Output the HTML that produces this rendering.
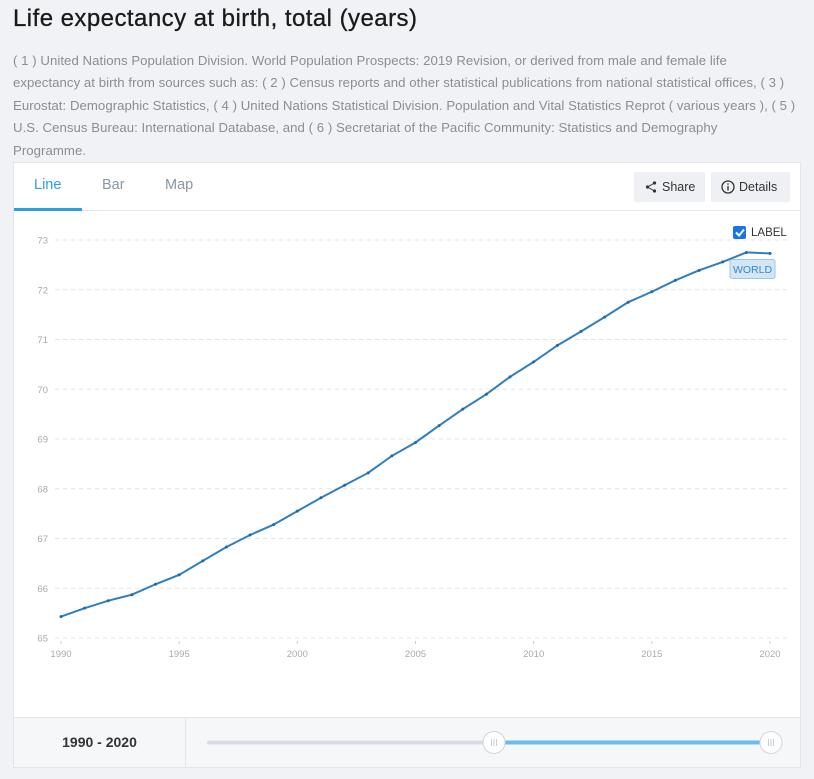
<!DOCTYPE html>
<html><head><meta charset="utf-8">
<style>
*{box-sizing:border-box;margin:0;padding:0}
body{width:814px;height:779px;background:#f1f2f6;font-family:"Liberation Sans",sans-serif;position:relative;overflow:hidden}
h1{position:absolute;left:13px;top:5px;font-size:24px;font-weight:normal;color:#1a1a1a;letter-spacing:0.45px;white-space:nowrap;-webkit-text-stroke:0.3px #1a1a1a}
.desc{position:absolute;left:13px;top:50px;width:800px;font-size:13.2px;line-height:22.4px;color:#8a8d91;white-space:nowrap;letter-spacing:0.05px}
.card{position:absolute;left:13px;top:162px;width:788px;height:606px;background:#fff;border:1px solid #e3e5e9}
.tabs{position:absolute;left:0;top:0;width:786px;height:48px;border-bottom:1px solid #e3e5e9}
.tab{position:absolute;top:14px;font-size:14.5px;color:#8a96a3}
.btn{position:absolute;top:9px;height:30px;background:#eef0f3;border-radius:2px;font-size:12.5px;color:#333;line-height:30px;padding-left:28px}
.foot{position:absolute;left:0;top:554px;width:786px;height:50px;background:#f6f7f9;border-top:1px solid #e3e5e9}
</style></head><body>
<h1>Life expectancy at birth, total (years)</h1>
<div class="desc">( 1 ) United Nations Population Division. World Population Prospects: 2019 Revision, or derived from male and female life<br>expectancy at birth from sources such as: ( 2 ) Census reports and other statistical publications from national statistical offices, ( 3 )<br>Eurostat: Demographic Statistics, ( 4 ) United Nations Statistical Division. Population and Vital Statistics Reprot ( various years ), ( 5 )<br>U.S. Census Bureau: International Database, and ( 6 ) Secretariat of the Pacific Community: Statistics and Demography<br>Programme.</div>
<div class="card">
 <div class="tabs">
  <div class="tab" style="left:20px;color:#2a9fe8">Line</div>
  <div style="position:absolute;left:0;top:45px;width:68px;height:3px;background:#2a9fe8"></div>
  <div class="tab" style="left:88px">Bar</div>
  <div class="tab" style="left:151px">Map</div>
  <div class="btn" style="left:620px;width:71px"><svg style="position:absolute;left:11px;top:9px" width="12" height="12" viewBox="0 0 12 12"><circle cx="9.5" cy="2" r="1.6" fill="#333"/><circle cx="2.5" cy="6" r="1.6" fill="#333"/><circle cx="9.5" cy="10" r="1.6" fill="#333"/><path d="M9.5 2L2.5 6L9.5 10" stroke="#333" fill="none"/></svg>Share</div>
  <div class="btn" style="left:697px;width:79px"><svg style="position:absolute;left:10px;top:8px" width="14" height="14" viewBox="0 0 14 14"><circle cx="7" cy="7" r="6" stroke="#333" stroke-width="1.3" fill="none"/><rect x="6.3" y="6" width="1.4" height="4.5" fill="#333"/><rect x="6.3" y="3.3" width="1.4" height="1.4" fill="#333"/></svg>Details</div>
 </div>
 <div class="foot">
  <div style="position:absolute;left:0;top:0;width:172px;height:49px;border-right:1px solid #e3e5e9;text-align:center;line-height:49px;font-weight:bold;font-size:14px;color:#333">1990 - 2020</div>
 </div>
</div>
<svg id="chart" width="814" height="779" style="position:absolute;left:0;top:0"></svg>
<script>
const years=[1990,1991,1992,1993,1994,1995,1996,1997,1998,1999,2000,2001,2002,2003,2004,2005,2006,2007,2008,2009,2010,2011,2012,2013,2014,2015,2016,2017,2018,2019,2020];
const values=[65.43,65.6,65.75,65.87,66.08,66.27,66.55,66.83,67.07,67.28,67.55,67.82,68.07,68.32,68.66,68.93,69.27,69.6,69.9,70.25,70.55,70.88,71.16,71.45,71.75,71.96,72.19,72.39,72.56,72.75,72.73];
const yTicks=[65,66,67,68,69,70,71,72,73];
const xTicks=[1990,1995,2000,2005,2010,2015,2020];
const NS="http://www.w3.org/2000/svg";
const svg=document.getElementById('chart');
const X=v=>61+(v-1990)*(709/30);
const Y=v=>638-(v-65)*49.75;
function mk(t,a){const e=document.createElementNS(NS,t);for(const k in a)e.setAttribute(k,a[k]);svg.appendChild(e);return e;}
yTicks.forEach(t=>{
 const l=mk('line',{x1:55,x2:790,y1:Y(t),y2:Y(t),stroke:'#e4e4e4','stroke-dasharray':'4,4'});
 
 
 const tx=mk('text',{x:48,y:Y(t)+3.5,'text-anchor':'end','font-size':'9.5','fill':'#aaa','font-family':'Liberation Sans, sans-serif'});tx.textContent=t;
 
 
});
xTicks.forEach(t=>{
 const l=mk('line',{x1:X(t),x2:X(t),y1:641,y2:644,stroke:'#ccc'});
 
 
 const tx=mk('text',{x:X(t),y:657,'text-anchor':'middle','font-size':'9.5','fill':'#aaa','font-family':'Liberation Sans, sans-serif'});tx.textContent=t;
 
 
});
const p=mk('polyline',{points:years.map((y,i)=>X(y)+','+Y(values[i])).join(' '),fill:'none',stroke:'#2e7fbf','stroke-width':'2'});


years.forEach((y,i)=>{const c=mk('circle',{cx:X(y),cy:Y(values[i]),r:1.5,fill:'#1f6aa8'});
 
 });
const cb=mk('rect',{x:733,y:226,width:13,height:13,rx:2,fill:'#1a73e8'});


mk('path',{d:'M736 232.5l3 3l5-6',stroke:'#fff','stroke-width':'2',fill:'none'});
const lt=mk('text',{x:751,y:236,'font-size':'11.5','fill':'#333','font-family':'Liberation Sans, sans-serif'});lt.textContent='LABEL';


const lb=mk('rect',{x:730,y:259.5,width:45,height:19,rx:2,fill:'#d3e6f5',stroke:'#9cc6e6'});


const lw=mk('text',{x:752.5,y:273,'text-anchor':'middle','font-size':'10.5','fill':'#3a85c4','font-family':'Liberation Sans, sans-serif'});lw.textContent='WORLD';


const tr=mk('rect',{x:207,y:740.5,width:563,height:4,rx:2,fill:'#d8dde3'});


const h1x=494, h2x=771;
const fr=mk('rect',{x:h1x,y:740.5,width:h2x-h1x,height:4,fill:'#6bbcee'});


[h1x,h2x].forEach(hx=>{
 const c=mk('circle',{cx:hx,cy:742.5,r:11,fill:'#fff',stroke:'#d0d6dc'});
 
 
 [-2.5,0,2.5].forEach(d=>mk('line',{x1:hx+d,x2:hx+d,y1:739,y2:746,stroke:'#c8cdd3'}));
});
</script>
</body></html>
